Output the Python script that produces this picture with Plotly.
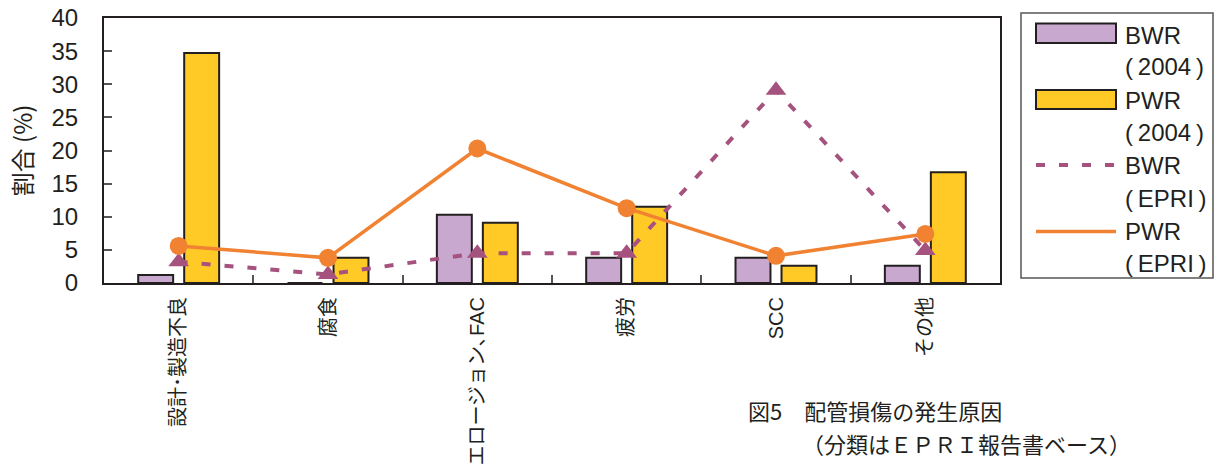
import plotly.graph_objects as go

categories = ["設計･製造不良", "腐食", "エロージョン､FAC", "疲労", "SCC", "その他"]
bwr_2004 = [1.2, 0.0, 10.3, 3.8, 3.8, 2.6]
pwr_2004 = [34.7, 3.8, 9.1, 11.5, 2.6, 16.7]
bwr_epri = [3.2, 1.3, 4.5, 4.5, 29.1, 4.9]
pwr_epri = [5.6, 3.8, 20.3, 11.3, 4.1, 7.4]
y_ticks = [0, 5, 10, 15, 20, 25, 30, 35, 40]

PURPLE_BAR = "#C9A8CF"
YELLOW_BAR = "#FFC926"
PURPLE_LINE = "#A5527E"
ORANGE_LINE = "#F08232"
EDGE = "#231F20"

FONT = "Liberation Sans, Arial, Noto Sans CJK JP, sans-serif"
CJK = "Noto Sans CJK JP, sans-serif"
DASH = "9px,14px"

fig = go.Figure()
fig.add_trace(go.Bar(x=categories, y=bwr_2004, name="BWR (2004)",
                     marker=dict(color=PURPLE_BAR, line=dict(color=EDGE, width=2))))
fig.add_trace(go.Bar(x=categories, y=pwr_2004, name="PWR (2004)",
                     marker=dict(color=YELLOW_BAR, line=dict(color=EDGE, width=2))))
fig.add_trace(go.Scatter(x=categories, y=bwr_epri, name="BWR (EPRI)", mode="lines+markers",
                         line=dict(color=PURPLE_LINE, width=4, dash=DASH),
                         marker=dict(symbol="triangle-up", size=18, color=PURPLE_LINE)))
fig.add_trace(go.Scatter(x=categories, y=pwr_epri, name="PWR (EPRI)", mode="lines+markers",
                         line=dict(color=ORANGE_LINE, width=3.5),
                         marker=dict(symbol="circle", size=18, color=ORANGE_LINE)))

fig.update_layout(
    width=1215, height=470,
    margin=dict(l=104, r=215, t=18, b=187, autoexpand=False),
    paper_bgcolor="white", plot_bgcolor="white",
    barmode="group", bargap=0.384, bargroupgap=0.24,
    showlegend=False,
    font=dict(family=FONT, color="#231F20"),
)
fig.update_xaxes(
    type="category", showline=True, linecolor=EDGE, linewidth=2, mirror=True,
    ticks="inside", tickson="boundaries", ticklen=8, tickcolor="#555", tickwidth=1.5,
    tickangle=-90, tickfont=dict(size=20, family=FONT, color="#231F20"),
    ticklabelstandoff=4, showgrid=False, automargin=False,
)
fig.update_yaxes(
    range=[0, 40], tickvals=y_ticks, showline=True, linecolor=EDGE, linewidth=2, mirror=True,
    ticks="inside", ticklen=8, tickcolor="#555", tickwidth=1.5,
    tickfont=dict(size=24, family=FONT, color="#231F20"), ticklabelstandoff=19,
    showgrid=False, zeroline=False, automargin=False,
    title=dict(text="割合 (%)", font=dict(size=24, family=CJK), standoff=12),
)

# Legend drawn in paper space: swatches, line samples and two-line labels
def px(x):
    return (x - 104) / (1000 - 104)

def py(y):
    return (283 - y) / (283 - 18)

shapes = [
    dict(type="rect", xref="paper", yref="paper", x0=px(1021), x1=px(1213), y0=py(278), y1=py(13),
         line=dict(color="#555", width=1.5), fillcolor="white", layer="below"),
    dict(type="rect", xref="paper", yref="paper", x0=px(1036), x1=px(1116), y0=py(43), y1=py(23.5),
         line=dict(color=EDGE, width=2), fillcolor=PURPLE_BAR),
    dict(type="rect", xref="paper", yref="paper", x0=px(1036), x1=px(1116), y0=py(109), y1=py(90),
         line=dict(color=EDGE, width=2), fillcolor=YELLOW_BAR),
    dict(type="line", xref="paper", yref="paper", x0=px(1036), x1=px(1116), y0=py(165), y1=py(165),
         line=dict(color=PURPLE_LINE, width=4, dash=DASH)),
    dict(type="line", xref="paper", yref="paper", x0=px(1036), x1=px(1116), y0=py(231.5), y1=py(231.5),
         line=dict(color=ORANGE_LINE, width=3.5)),
]
fig.update_layout(shapes=shapes)

# Legend markers on an overlay axis spanning the paper
fig.add_trace(go.Scatter(x=[px(1075)], y=[py(165)], xaxis="x2", yaxis="y2", mode="markers",
                         marker=dict(symbol="triangle-up", size=18, color=PURPLE_LINE),
                         hoverinfo="skip", cliponaxis=False))
fig.add_trace(go.Scatter(x=[px(1075)], y=[py(231.5)], xaxis="x2", yaxis="y2", mode="markers",
                         marker=dict(symbol="circle", size=18, color=ORANGE_LINE),
                         hoverinfo="skip", cliponaxis=False))
fig.update_layout(
    xaxis2=dict(domain=[0, 1], range=[0, 1], overlaying="x", visible=False, fixedrange=True),
    yaxis2=dict(domain=[0, 1], range=[0, 1], overlaying="y", visible=False, fixedrange=True),
)

legend_rows = [
    ("BWR", 35), ("(\u20092004\u2009)", 67),
    ("PWR", 100), ("(\u20092004\u2009)", 132),
    ("BWR", 165), ("(\u2009EPRI\u2009)", 198),
    ("PWR", 231.5), ("(\u2009EPRI\u2009)", 263),
]
annotations = []
for text, y in legend_rows:
    annotations.append(dict(text=text, xref="paper", yref="paper", x=px(1123), y=py(y),
                            xanchor="left", yanchor="middle", showarrow=False,
                            font=dict(size=24, family=FONT, color="#231F20")))

# Figure caption, two lines with the second indented under the title text
caption_lines = [
    ("図5\u3000配管損傷の発生原因", 746, 410),
    ("（分類はＥＰＲＩ報告書ベース）", 800, 443),
]
for text, x, y in caption_lines:
    annotations.append(dict(text=text, xref="paper", yref="paper", x=px(x), y=py(y),
                            xanchor="left", yanchor="middle", showarrow=False,
                            font=dict(size=22, family=CJK, color="#231F20")))
fig.update_layout(annotations=annotations)

fig.write_html("out.html")
